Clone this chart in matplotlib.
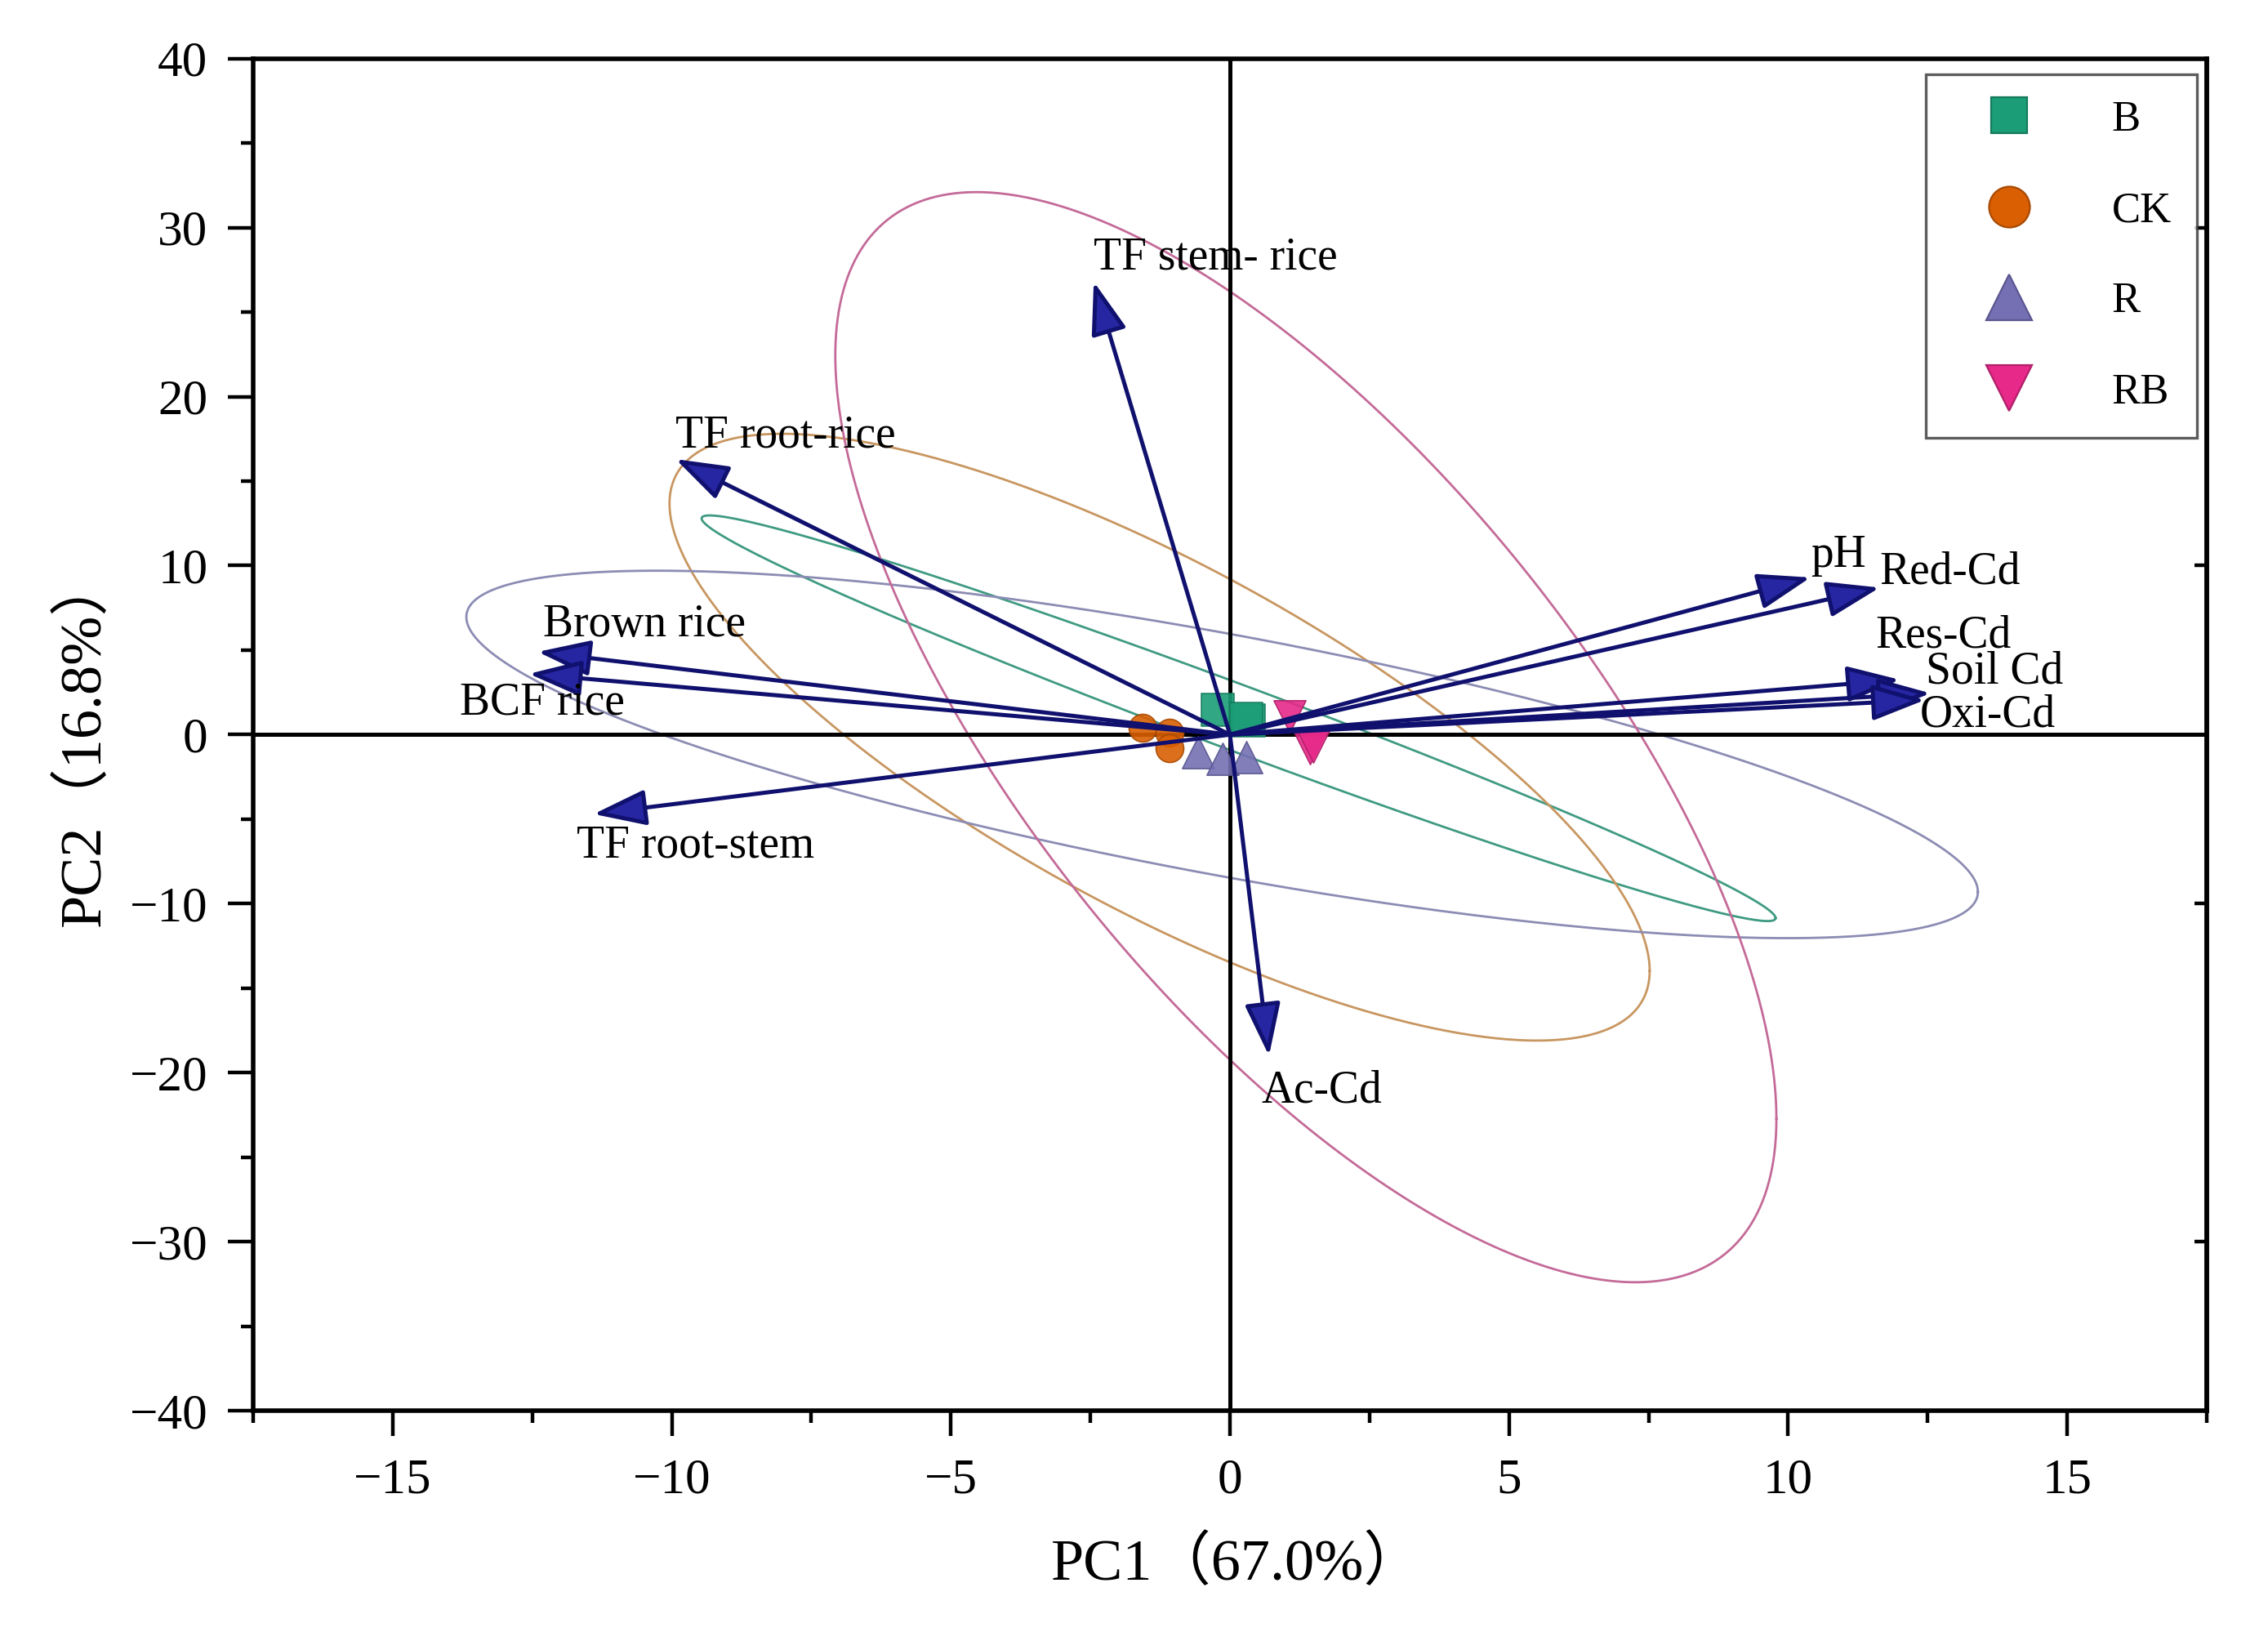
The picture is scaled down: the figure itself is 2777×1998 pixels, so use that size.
import numpy as np
import matplotlib
matplotlib.use("Agg")
import matplotlib.pyplot as plt
from matplotlib.lines import Line2D
from matplotlib.ticker import MultipleLocator, FixedLocator

plt.rcParams['font.family'] = ['Liberation Serif', 'Noto Sans CJK SC', 'DejaVu Sans']

# ---------------- data ----------------
groups = ['B', 'CK', 'R', 'RB']
group_colors = ['#1b9e77', '#d95f02', '#7570b3', '#e7298a']
ellipse_colors = ['#3f9a82', '#c89660', '#8c8cb4', '#c46a98']
group_markers = ['s', 'o', '^', 'v']

# sample scores (PC1, PC2)
B_x = [-0.22, 0.34, 0.30]
B_y = [1.46, 0.86, 0.95]
CK_x = [-1.57, -1.08, -1.08]
CK_y = [0.42, 0.10, -0.79]
R_x = [-0.57, -0.13, 0.29]
R_y = [-1.03, -1.43, -1.35]
RB_x = [1.07, 1.43, 1.50]
RB_y = [1.06, -0.79, -0.70]

# confidence ellipses: centre, half-extent in x / y, correlation
ell_cx = [0.155, -1.26, -0.14, 1.36]
ell_cy = [0.97, -0.15, -1.17, -0.15]
ell_rx = [9.62, 8.78, 13.54, 8.43]
ell_ry = [12.0, 17.95, 10.87, 32.25]
ell_rho = [-0.985, -0.77, -0.748, -0.70]

# loadings (arrow tips)
var_names = ['TF stem- rice', 'TF root-rice', 'Brown rice', 'BCF rice', 'TF root-stem',
             'Ac-Cd', 'pH', 'Red-Cd', 'Res-Cd', 'Soil Cd', 'Oxi-Cd']
load_pc1 = [-2.44, -9.93, -12.4, -12.56, -11.4, 0.70, 10.4, 11.64, 12.0, 12.55, 12.45]
load_pc2 = [26.8, 16.3, 4.9, 3.6, -4.7, -19.0, 9.3, 8.7, 3.25, 2.45, 2.05]

# label anchor positions (layout)
lab_x = [-2.45, -9.94, -12.3, -13.8, -11.7, 0.57, 10.4, 11.64, 11.57, 12.47, 12.36]
lab_y = [28.2, 17.7, 6.5, 1.9, -6.6, -21.1, 10.6, 9.6, 5.85, 3.7, 1.15]

x_label = 'PC1（67.0%）'
y_label = 'PC2（16.8%）'

# ---------------- figure ----------------
fig = plt.figure(figsize=(2777 / 200, 1998 / 200), dpi=200)
ax = fig.add_axes([0.1116, 0.1356, 0.8614, 0.8285])
ax.set_xlim(-17.5, 17.5)
ax.set_ylim(-40, 40)

# ellipses
t = np.linspace(0, 2 * np.pi, 600)
for cx, cy, rx, ry, rho, c in zip(ell_cx, ell_cy, ell_rx, ell_ry, ell_rho, ellipse_colors):
    ex = cx + rx * np.cos(t)
    ey = cy + ry * (rho * np.cos(t) + np.sqrt(1 - rho ** 2) * np.sin(t))
    ax.plot(ex, ey, color=c, lw=1.0, zorder=1)

# cross lines
ax.axhline(0, color='black', lw=1.8, zorder=2)
ax.axvline(0, color='black', lw=1.8, zorder=2)

# points
pts = [(B_x, B_y), (CK_x, CK_y), (R_x, R_y), (RB_x, RB_y)]
sizes = [200, 150, 200, 200]
edge_colors = ['#147a5c', '#a84a02', '#5a5690', '#b01f68']
for (px, py), c, ec, m, s in zip(pts, group_colors, edge_colors, group_markers, sizes):
    ax.scatter(px, py, s=s, marker=m, color=c, edgecolors=ec, linewidths=0.6,
               alpha=0.9, zorder=3)

# arrows + labels
for name, lx, ly, tx, ty in zip(var_names, load_pc1, load_pc2, lab_x, lab_y):
    ax.annotate('', xy=(lx, ly), xytext=(0, 0),
                arrowprops=dict(arrowstyle='-|>,head_length=1.0,head_width=0.34',
                                mutation_scale=20, fc='#2626a2', ec='#10106e',
                                lw=1.8, shrinkA=0, shrinkB=0),
                zorder=4)
    ax.text(tx, ty, name, fontsize=20, ha='left', va='center',
            family='Liberation Serif', color='black', zorder=5)

# axes styling
for sp in ax.spines.values():
    sp.set_linewidth(2.0)
ax.xaxis.set_major_locator(MultipleLocator(5))
ax.xaxis.set_minor_locator(MultipleLocator(2.5))
ax.yaxis.set_major_locator(MultipleLocator(10))
ax.yaxis.set_minor_locator(MultipleLocator(5))
ax.tick_params(axis='both', which='major', direction='out', length=11, width=1.6,
               labelsize=22, top=False, right=False)
ax.tick_params(axis='both', which='minor', direction='out', length=5.5, width=1.6,
               top=False, right=False)
ax.tick_params(axis='x', which='major', pad=10)
ax.tick_params(axis='y', which='major', pad=9)

sec = ax.secondary_yaxis('right')
sec.yaxis.set_major_locator(FixedLocator([-30, -10, 10, 30]))
sec.tick_params(direction='in', length=5.5, width=1.6, labelright=False)
sec.spines['right'].set_linewidth(2.0)

ax.set_xlabel(x_label, fontsize=26)
ax.set_ylabel(y_label, fontsize=26)
ax.xaxis.label.set_va('center')
ax.yaxis.label.set_va('center')
ax.xaxis.set_label_coords(0.5038, -0.1136)
ax.yaxis.set_label_coords(-0.0865, 0.496)

# legend
handles = [
    Line2D([], [], ls='none', marker='s', ms=15.5, color=group_colors[0], mec=edge_colors[0], mew=0.8),
    Line2D([], [], ls='none', marker='o', ms=18, color=group_colors[1], mec=edge_colors[1], mew=0.8),
    Line2D([], [], ls='none', marker='^', ms=20, color=group_colors[2], mec=edge_colors[2], mew=0.8),
    Line2D([], [], ls='none', marker='v', ms=20, color=group_colors[3], mec=edge_colors[3], mew=0.8),
]
leg = ax.legend(handles, groups, loc='upper left',
                bbox_to_anchor=(2358 / 2777, 1 - 91 / 1998), bbox_transform=fig.transFigure,
                borderaxespad=0, frameon=True, fancybox=False, shadow=False,
                fontsize=19, borderpad=0.6, labelspacing=1.2, handlelength=2.66,
                handletextpad=1.05, numpoints=1)
leg.get_frame().set_edgecolor('#333333')
leg.get_frame().set_linewidth(1.2)
leg.set_zorder(6)

fig.savefig('out.png', dpi=200, facecolor='white')
